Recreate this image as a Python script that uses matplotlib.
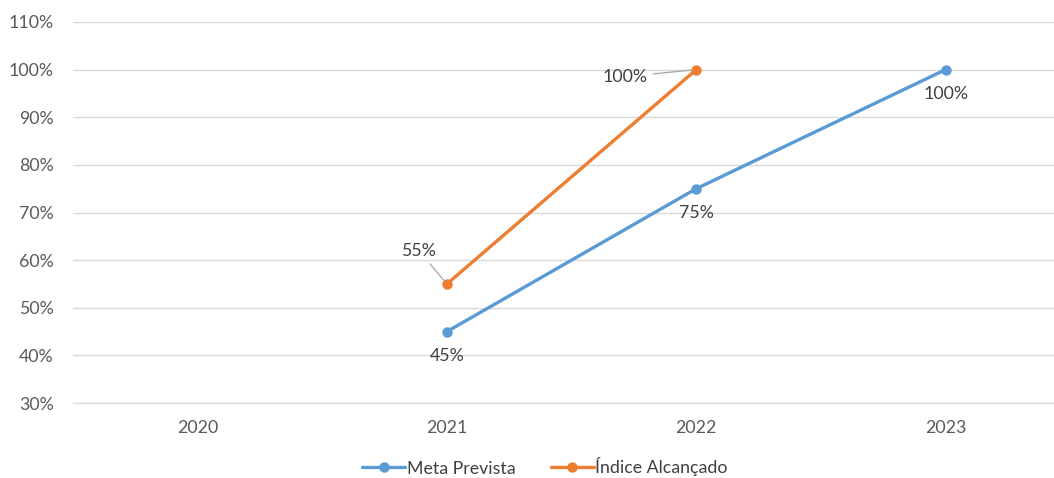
import matplotlib
matplotlib.use("Agg")
import matplotlib.pyplot as plt
from matplotlib.ticker import FuncFormatter

plt.rcParams['font.family'] = ['Lato', 'DejaVu Sans']

# data
years = ["2020", "2021", "2022", "2023"]
meta_prevista = [None, 45, 75, 100]
indice_alcancado = [None, 55, 100, None]

BLUE = "#5B9BD5"
ORANGE = "#ED7D31"
TXT = "#404040"
TICK = "#595959"
FS = 12.8

fig = plt.figure(figsize=(10.54, 4.78), dpi=100)
ax = fig.add_axes([73 / 1054, 1 - 403 / 478, (1054 - 73) / 1054, (403 - 22) / 478])

x = list(range(len(years)))

def pts(vals):
    xs = [i for i, v in zip(x, vals) if v is not None]
    ys = [v for v in vals if v is not None]
    return xs, ys

mx, my = pts(meta_prevista)
ix, iy = pts(indice_alcancado)

ax.plot(mx, my, color=BLUE, lw=2.4, marker="o", ms=6.5, label="Meta Prevista",
        solid_capstyle="round", zorder=3)
ax.plot(ix, iy, color=ORANGE, lw=2.4, marker="o", ms=6.5, label="Índice Alcançado",
        solid_capstyle="round", zorder=3)

# data labels
for xi, yi in zip(mx, my):
    ax.annotate(f"{yi}%", (xi, yi), xytext=(0, -24), textcoords="offset pixels",
                ha="center", va="center", fontsize=FS, color=TXT)

leader = dict(arrowstyle="-", color="#A6A6A6", lw=0.9, shrinkA=2, shrinkB=3)
label_offsets = [(-28, 33), (-71, -7)]
for (xi, yi), off in zip(zip(ix, iy), label_offsets):
    ax.annotate(f"{yi}%", (xi, yi), xytext=off, textcoords="offset pixels",
                ha="center", va="center", fontsize=FS, color=TXT,
                arrowprops=leader)

ax.set_xlim(-0.5, -0.5 + (1054 - 73) / 249.3)
ax.set_ylim(30, 110)
ax.set_yticks(range(30, 111, 10))
ax.yaxis.set_major_formatter(FuncFormatter(lambda v, p: f"{int(v)}%"))
ax.set_xticks(x)
ax.set_xticklabels(years)

ax.grid(axis="y", color="#D9D9D9", lw=1)
ax.set_axisbelow(True)
for s in ["top", "right", "left"]:
    ax.spines[s].set_visible(False)
ax.spines["bottom"].set_color("#D9D9D9")
ax.tick_params(axis="both", length=0, labelsize=FS, colors=TICK)
ax.tick_params(axis="y", pad=14)
ax.tick_params(axis="x", pad=12)

fig.legend(loc="center", bbox_to_anchor=(545 / 1054, 1 - 467 / 478), ncol=2,
           frameon=False, fontsize=FS, labelcolor=TXT, handlelength=2.4,
           handletextpad=0.1, columnspacing=2.0)

fig.savefig("out.png", dpi=100)
